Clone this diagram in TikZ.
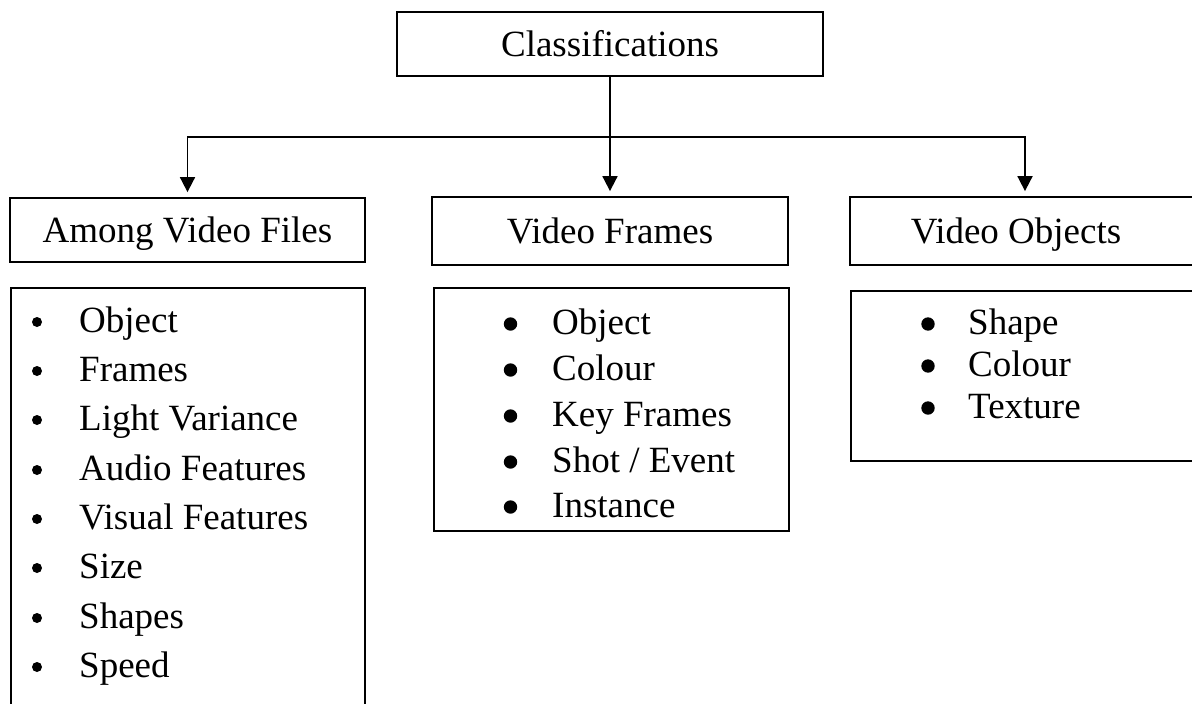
\documentclass[tikz,border=0pt]{standalone}
\usepackage{fontspec}
\setmainfont{Liberation Serif}
\usetikzlibrary{arrows.meta}
\begin{document}
\begin{tikzpicture}[x=1pt,y=-1pt,
  bigfont/.style={font=\fontsize{37}{44}\selectfont},
  box/.style={draw,line width=1.8pt,inner sep=0pt,minimum height=64pt,text height=24.5pt,text depth=0pt,bigfont},
  lst/.style={draw,line width=1.8pt,inner sep=0pt,anchor=north west},
  itm/.style={anchor=base west,inner sep=0pt,bigfont},
  arr/.style={line width=1.8pt,-{Triangle[width=15pt,length=15pt]},shorten >=5pt},
  ln/.style={line width=1.8pt}]
\useasboundingbox (0,0) rectangle (1192,704);
\clip (0,0) rectangle (1192,704);
\node[box,minimum width=426pt,minimum height=64pt] (cls) at (610,44) {Classifications};
\node[box,minimum width=355pt,minimum height=64pt] (h1) at (187.5,230) {Among Video Files};
\node[box,minimum width=356pt,minimum height=68pt] (h2) at (610,231) {Video Frames};
\node[box,minimum width=350pt,minimum height=68pt] (h3) at (1025,231) {\hspace*{-18pt}Video Objects};
\coordinate (j) at (610,137);
\draw[ln] (cls.south) -- (j);
\draw[arr] (j) -- (h2.north);
\draw[arr] (j) -| (h1.north);
\draw[arr] (j) -| (h3.north);
\node[lst,minimum width=354pt,minimum height=460pt] (l1) at (10,287) {};
\node[lst,minimum width=355pt,minimum height=243pt] (l2) at (433,287) {};
\node[lst,minimum width=360pt,minimum height=170pt] (l3) at (850,290) {};
\foreach \t/\y [count=\i] in {Object/332,Frames/381,{Light Variance}/430,{Audio Features}/480,{Visual Features}/529,Size/578,Shapes/628,Speed/677}{
  \fill (37,\y-10) circle (5pt);
  \node[itm] (a\i) at (79,\y) {\t};
}
\foreach \t/\y [count=\i] in {Object/334,Colour/380,{Key Frames}/426,{Shot / Event}/472,Instance/517}{
  \fill (510.5,\y-10) circle (6.7pt);
  \node[itm] (b\i) at (552,\y) {\t};
}
\foreach \t/\y [count=\i] in {Shape/334,Colour/376,Texture/418}{
  \fill (928,\y-10) circle (6.7pt);
  \node[itm] (c\i) at (968,\y) {\t};
}
\end{tikzpicture}
\end{document}
